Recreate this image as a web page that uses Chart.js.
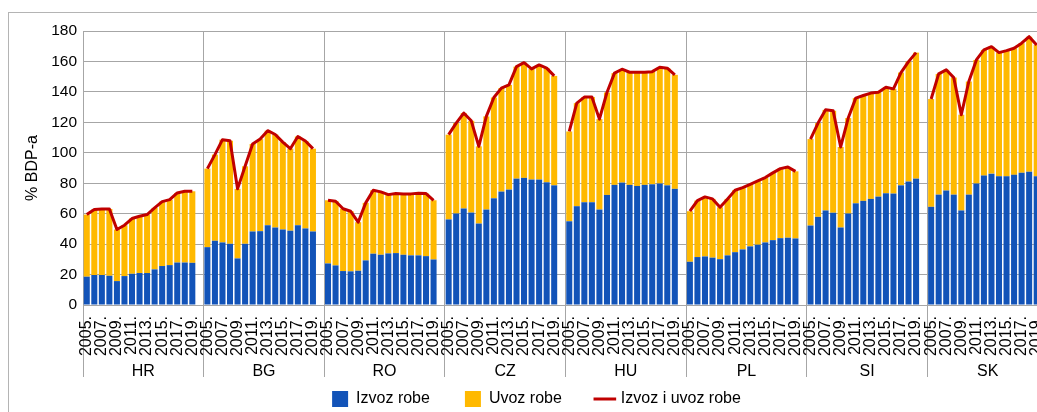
<!DOCTYPE html>
<html>
<head>
<meta charset="utf-8">
<script src="https://cdn.jsdelivr.net/npm/chart.js@4/dist/chart.umd.min.js"></script>
<style>
  html, body { margin: 0; padding: 0; background: #fff; overflow: hidden; }
  #frame { position: absolute; left: 8px; top: 12px; width: 1200px; height: 600px; border: 1px solid #b4b4b4; box-sizing: border-box; }
  #chart { position: absolute; left: 0; top: 0; }
</style>
</head>
<body>
<div id="frame"></div>
<canvas id="chart" width="1073" height="417"></canvas>
<script>
// izvoz i uvoz robe, % BDP-a, 2005.-2019.
const drzave = ['HR', 'BG', 'RO', 'CZ', 'HU', 'PL', 'SI', 'SK'];
const godine = ['2005.', '2006.', '2007.', '2008.', '2009.', '2010.', '2011.', '2012.',
                '2013.', '2014.', '2015.', '2016.', '2017.', '2018.', '2019.'];
const yTicks = [0, 20, 40, 60, 80, 100, 120, 140, 160, 180];

// Izvoz robe (one row per country, same order as drzave)
const izvoz = [
  [18.6, 19.7, 19.7, 19.2, 15.7, 19.0, 20.5, 21.0, 21.0, 23.4, 25.6, 26.2, 27.9, 27.9, 27.7],
  [38.0, 42.2, 41.1, 40.2, 30.6, 40.2, 48.3, 48.5, 52.4, 50.9, 49.6, 48.8, 52.4, 50.3, 48.3],
  [27.3, 26.0, 22.3, 22.1, 22.5, 29.3, 33.7, 33.0, 33.9, 34.1, 33.0, 32.6, 32.6, 32.1, 29.9],
  [56.2, 60.1, 63.4, 60.7, 53.5, 62.7, 70.1, 74.5, 75.8, 83.0, 83.5, 82.4, 82.4, 80.6, 78.6],
  [55.0, 64.9, 67.5, 67.5, 62.7, 72.3, 78.9, 80.4, 78.9, 78.2, 78.9, 79.3, 79.8, 78.6, 76.3],
  [28.4, 31.5, 31.9, 31.1, 30.1, 32.6, 34.7, 36.5, 38.5, 39.6, 41.1, 42.6, 43.9, 44.2, 43.7],
  [52.2, 57.9, 62.1, 60.6, 50.9, 60.1, 66.8, 68.4, 69.7, 71.2, 73.4, 73.2, 78.6, 81.1, 83.0],
  [64.5, 72.5, 75.2, 72.5, 62.1, 72.5, 79.8, 85.0, 86.3, 84.5, 84.5, 85.5, 86.8, 87.6, 84.5]
];
// Uvoz robe
const uvoz = [
  [40.8, 43.0, 43.4, 43.9, 33.9, 33.4, 36.3, 37.3, 38.4, 40.4, 42.3, 43.0, 45.7, 46.8, 47.0],
  [51.6, 56.6, 67.5, 67.7, 45.7, 50.9, 57.5, 60.5, 62.1, 61.1, 57.4, 53.9, 58.3, 57.4, 54.4],
  [41.5, 42.2, 40.9, 39.5, 31.9, 37.8, 41.7, 41.3, 38.6, 39.1, 40.0, 40.4, 40.8, 41.1, 38.9],
  [55.7, 59.4, 62.7, 60.3, 50.7, 61.2, 66.2, 68.0, 68.8, 73.6, 75.7, 72.7, 75.3, 75.0, 71.9],
  [59.0, 67.7, 69.1, 69.1, 59.4, 67.3, 73.4, 74.5, 74.0, 74.7, 74.0, 74.0, 76.4, 77.0, 74.9],
  [33.2, 37.1, 39.1, 38.6, 34.1, 37.1, 40.7, 40.6, 40.8, 41.9, 42.6, 44.2, 45.7, 46.5, 44.1],
  [56.8, 61.6, 66.1, 67.0, 52.9, 62.7, 69.1, 69.2, 69.5, 68.6, 69.7, 68.8, 74.1, 78.8, 82.8],
  [70.8, 79.3, 79.3, 76.9, 62.9, 74.3, 81.2, 82.6, 83.4, 81.3, 82.6, 83.2, 85.2, 88.7, 86.3]
];

const BLUE = '#1253b8';
const YELLOW = '#ffb900';
const RED = '#c00000';
const GRID = '#a6a6a6';
const FONT = 'Liberation Sans, Arial, sans-serif';

// flatten: 15 years per country + one empty slot as a gap between groups
const SLOT = godine.length + 1;
const labels = [];
const izvozData = [];
const uvozData = [];
const ukupnoData = [];
drzave.forEach((d, di) => {
  godine.forEach((g, gi) => {
    labels.push(g);
    izvozData.push(izvoz[di][gi]);
    uvozData.push(uvoz[di][gi]);
    ukupnoData.push(+(izvoz[di][gi] + uvoz[di][gi]).toFixed(1));
  });
  labels.push('');
  izvozData.push(null);
  uvozData.push(null);
  ukupnoData.push(null);
});

// country names under each group of years
const groupLabels = {
  id: 'groupLabels',
  afterDraw(chart) {
    const x = chart.scales.x;
    const ctx = chart.ctx;
    ctx.save();
    ctx.fillStyle = '#000';
    ctx.font = '16px ' + FONT;
    ctx.textAlign = 'center';
    ctx.textBaseline = 'middle';
    drzave.forEach((d, i) => {
      const cx = (x.getPixelForValue(i * SLOT) + x.getPixelForValue(i * SLOT + SLOT - 1)) / 2;
      ctx.fillText(d, cx, 372);
    });
    ctx.restore();
  }
};

new Chart(document.getElementById('chart'), {
  type: 'bar',
  data: {
    labels,
    datasets: [
      { label: 'Izvoz robe', data: izvozData, backgroundColor: BLUE, borderWidth: 0,
        barPercentage: 0.8, categoryPercentage: 1, pointStyle: 'rect' },
      { label: 'Uvoz robe', data: uvozData, backgroundColor: YELLOW, borderWidth: 0,
        barPercentage: 0.8, categoryPercentage: 1, pointStyle: 'rect' },
      { type: 'line', label: 'Izvoz i uvoz robe', data: ukupnoData, borderColor: RED,
        backgroundColor: RED, borderWidth: 3, pointRadius: 0, tension: 0, spanGaps: false,
        borderJoinStyle: 'round', pointStyle: 'line', order: -1 }
    ]
  },
  options: {
    responsive: false,
    animation: false,
    layout: { padding: { top: 31, left: 0, right: 0, bottom: 0 } },
    plugins: {
      tooltip: { enabled: false },
      legend: {
        position: 'bottom',
        labels: {
          usePointStyle: true,
          boxHeight: 16,
          padding: 35,
          color: '#000',
          font: { family: FONT, size: 16 },
          sort: (a, b) => a.datasetIndex - b.datasetIndex
        }
      }
    },
    scales: {
      x: {
        type: 'category',
        stacked: true,
        offset: true,
        grid: {
          offset: true,
          color: ctx => (ctx.index % SLOT === 0 ? GRID : 'rgba(0,0,0,0)'),
          lineWidth: 1,
          tickLength: 72
        },
        border: { display: true, color: GRID },
        ticks: {
          autoSkip: false,
          minRotation: 90,
          maxRotation: 90,
          padding: -61,
          color: '#000',
          font: { family: FONT, size: 16 },
          callback: function (value, index) {
            return index % 2 === 0 ? this.getLabelForValue(value) : '';
          }
        },
        afterFit: s => { s.height = 51; }
      },
      y: {
        stacked: true,
        min: 0,
        max: 180,
        afterBuildTicks: s => { s.ticks = yTicks.map(v => ({ value: v })); },
        grid: { color: GRID, lineWidth: 1, drawTicks: false },
        border: { display: true, color: GRID },
        ticks: { padding: 6, color: '#000', font: { family: FONT, size: 15.5 } },
        title: { display: true, text: '% BDP-a', color: '#000',
                 font: { family: FONT, size: 16 }, padding: { top: 23, bottom: 0 } },
        afterFit: s => { s.width = 83; }
      },
      yR: {
        position: 'right',
        grid: { display: false, drawTicks: false },
        border: { display: false },
        ticks: { display: false },
        afterFit: s => { s.width = 25; }
      }
    }
  },
  plugins: [groupLabels]
});
</script>
</body>
</html>
